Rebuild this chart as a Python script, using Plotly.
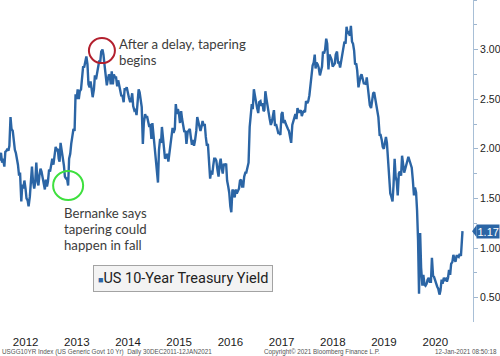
import plotly.graph_objects as go

# ---- data (US 10-year Treasury yield, ~4 readings per month) ----
y2012 = [1.88,1.96,1.86,1.90, 1.82,1.97,1.98,2.00, 1.98,2.03,2.32,2.20, 2.18,2.05,1.99,1.96,
         1.91,1.84,1.73,1.76, 1.47,1.64,1.60,1.68, 1.60,1.50,1.48,1.42, 1.52,1.65,1.82,1.68,
         1.60,1.66,1.86,1.70, 1.63,1.73,1.80,1.77, 1.69,1.62,1.59,1.69, 1.62,1.67,1.79,1.77]
y2013 = [1.84,1.90,1.84,1.95, 2.02,1.99,2.00,1.90, 1.87,2.06,1.99,1.90, 1.83,1.72,1.70,1.70,
         1.63,1.90,1.95,2.05, 2.15,2.20,2.18,2.55, 2.50,2.60,2.50,2.58, 2.60,2.70,2.83,2.82,
         2.90,2.93,2.85,2.65, 2.62,2.68,2.60,2.52, 2.60,2.74,2.70,2.75, 2.80,2.88,2.88,2.98]
y2014 = [3.00,2.95,2.84,2.76, 2.64,2.70,2.75,2.73, 2.65,2.78,2.65,2.75, 2.72,2.72,2.63,2.69,
         2.63,2.61,2.53,2.54, 2.47,2.60,2.60,2.62, 2.54,2.52,2.48,2.48, 2.56,2.43,2.39,2.40,
         2.34,2.46,2.60,2.57, 2.49,2.42,2.05,2.26, 2.35,2.32,2.32,2.28, 2.22,2.25,2.10,2.26]
y2015 = [2.12,1.95,1.83,1.80, 1.66,1.99,2.10,2.06, 2.22,2.12,1.98,1.90, 1.92,1.95,1.87,1.96,
         2.05,2.15,2.21,2.16, 2.20,2.45,2.35,2.40, 2.35,2.26,2.38,2.30, 2.22,2.17,2.18,2.05,
         2.17,2.18,2.20,2.12, 2.04,2.09,2.03,2.08, 2.18,2.32,2.26,2.24, 2.18,2.22,2.28,2.24]
y2016 = [2.24,2.12,2.03,2.05, 1.88,1.70,1.78,1.74, 1.83,1.90,1.90,1.88, 1.78,1.72,1.85,1.90,
         1.80,1.75,1.85,1.83, 1.85,1.68,1.62,1.56, 1.42,1.36,1.59,1.57, 1.51,1.59,1.55,1.57,
         1.60,1.68,1.69,1.62, 1.62,1.72,1.76,1.76, 1.83,1.86,2.22,2.36, 2.45,2.40,2.60,2.54]
y2017 = [2.45,2.41,2.36,2.47, 2.48,2.43,2.46,2.38, 2.39,2.58,2.50,2.41, 2.36,2.30,2.24,2.27,
         2.32,2.39,2.23,2.25, 2.20,2.16,2.16,2.14, 2.35,2.37,2.26,2.29, 2.25,2.22,2.20,2.18,
         2.12,2.06,2.24,2.28, 2.34,2.35,2.30,2.41, 2.37,2.37,2.39,2.33, 2.37,2.38,2.37,2.48]
y2018 = [2.46,2.48,2.54,2.63, 2.78,2.84,2.87,2.95, 2.81,2.87,2.85,2.82, 2.74,2.78,2.83,2.98,
         2.96,3.00,3.11,3.06, 2.80,2.95,2.92,2.90, 2.83,2.84,2.86,2.95, 2.98,2.87,2.87,2.82,
         2.90,2.94,3.00,3.08, 3.06,3.23,3.16,3.17, 3.14,3.24,3.08,3.06, 2.99,2.85,2.86,2.79]
y2019 = [2.62,2.70,2.73,2.75, 2.68,2.66,2.66,2.65, 2.72,2.63,2.59,2.44, 2.41,2.50,2.56,2.57,
         2.51,2.46,2.39,2.32, 2.14,2.14,2.09,2.02, 2.00,2.05,2.12,2.06, 1.89,1.73,1.55,1.52,
         1.47,1.63,1.90,1.72, 1.67,1.53,1.75,1.77, 1.73,1.93,1.83,1.76, 1.80,1.83,1.88,1.92]
y2020 = [1.88,1.86,1.81,1.70, 1.53,1.61,1.56,1.38, 1.08,0.54,1.15,0.80, 0.62,0.73,0.63,0.62,
         0.64,0.68,0.70,0.66, 0.66,0.90,0.72,0.71, 0.67,0.64,0.61,0.59, 0.53,0.57,0.68,0.64,
         0.70,0.68,0.69,0.66, 0.70,0.78,0.73,0.84, 0.86,0.93,0.88,0.86, 0.92,0.92,0.91,0.94]
y2021 = [0.92, 1.10, 1.17]
days_2021 = ["2021-01-01", "2021-01-08", "2021-01-12"]
sample_days = [1, 8, 16, 23]
years = list(range(2012, 2021))
year_labels = [str(y) for y in years]
y_ticks = [0.5, 1.0, 1.5, 2.0, 2.5, 3.0]

series_name = "US 10-Year Treasury Yield"
red_note = ["After a delay, tapering", "begins"]
green_note = ["Bernanke says", "tapering could", "happen in fall"]
red_point = ("2013-12-28", 2.99)
green_point = ("2013-05-01", 1.63)
footer_left = "USGG10YR Index (US Generic Govt 10 Yr)  Daily 30DEC2011-12JAN2021"
footer_mid = "Copyright\u00a9 2021 Bloomberg Finance L.P."
footer_right = "12-Jan-2021 08:50:18"

values = y2012 + y2013 + y2014 + y2015 + y2016 + y2017 + y2018 + y2019 + y2020 + y2021
dates = [f"{y}-{m:02d}-{d:02d}" for y in years for m in range(1, 13) for d in sample_days] + days_2021

BLUE = "#2b65a5"
TXT = "#3c3c3c"

fig = go.Figure()
fig.add_trace(go.Scatter(x=dates, y=values, mode="lines",
                         line=dict(color=BLUE, width=2.4), showlegend=False,
                         hoverinfo="x+y"))

shapes = [
    dict(type="circle", xref="x", yref="y", xsizemode="pixel", ysizemode="pixel",
         xanchor=red_point[0], yanchor=red_point[1], x0=-13, x1=13, y0=-12.5, y1=12.5,
         line=dict(color="#b3202e", width=2)),
    dict(type="circle", xref="x", yref="y", xsizemode="pixel", ysizemode="pixel",
         xanchor=green_point[0], yanchor=green_point[1], x0=-15, x1=15, y0=-14.5, y1=14.5,
         line=dict(color="#3ee03e", width=2)),
]
last = values[-1]
shapes.append(dict(type="path", xref="paper", yref="y",
                   path=f"M 0.998,{last} L 1.0075,{last+0.062} L 1.0075,{last-0.062} Z",
                   fillcolor=BLUE, line=dict(width=0)))

annotations = []
note_font = dict(family="Lato", size=13.2, color=TXT)
for txt, ys in zip(red_note, [7, -9]):
    annotations.append(dict(x=red_point[0], y=red_point[1], xref="x", yref="y", text=txt,
                            showarrow=False, xanchor="left", yanchor="middle",
                            xshift=15, yshift=ys, font=note_font))
for txt, ys in zip(green_note, [-27, -43, -59]):
    annotations.append(dict(x=green_point[0], y=green_point[1], xref="x", yref="y", text=txt,
                            showarrow=False, xanchor="left", yanchor="middle",
                            xshift=-6, yshift=ys, font=note_font))
annotations.append(dict(x=0.1966, y=0.135, xref="paper", yref="paper", xanchor="left",
                        yanchor="middle", showarrow=False,
                        text=f"<span style='color:{BLUE};font-size:9px'>\u25a0</span>{series_name}",
                        font=dict(family="Roboto", size=14.5, color="#222"),
                        bgcolor="#f3f3f3", bordercolor="#a3a3a3", borderwidth=1, borderpad=4))
annotations.append(dict(x=1, y=last, xref="paper", yref="y", xanchor="left", yanchor="middle",
                        xshift=3, showarrow=False, text=f"{last:.2f}",
                        font=dict(family="Liberation Sans", size=11, color="white"),
                        bgcolor=BLUE, borderpad=0.5))
foot_font = dict(family="Liberation Sans", size=6.3, color="#555")
annotations.append(dict(x=0, y=-0.093, xref="paper", yref="paper", xanchor="left",
                        yanchor="middle", showarrow=False, text=footer_left, font=foot_font))
annotations.append(dict(x=262 / 473, y=-0.093, xref="paper", yref="paper", xanchor="left",
                        yanchor="middle", showarrow=False, text=footer_mid, font=foot_font))
annotations.append(dict(x=499 / 473, y=-0.093, xref="paper", yref="paper", xanchor="right",
                        yanchor="middle", showarrow=False, text=footer_right, font=foot_font))

fig.update_layout(
    template="none",
    width=500, height=356,
    margin=dict(l=0, r=27, t=0, b=34, autoexpand=False),
    paper_bgcolor="white", plot_bgcolor="white",
    shapes=shapes, annotations=annotations,
    xaxis=dict(type="date", range=["2012-01-01", "2021-03-28"], automargin=False,
               tickvals=[f"{y}-07-02" for y in years], ticktext=year_labels,
               ticks="outside", ticklen=9, tickcolor="rgba(0,0,0,0)",
               showgrid=False, zeroline=False, showline=False,
               tickfont=dict(family="Liberation Sans", size=11.5, color="#1a1a1a")),
    yaxis=dict(side="right", range=[0.254, 3.5], automargin=False,
               tickvals=y_ticks, tickformat=".2f",
               ticks="outside", ticklen=4, tickcolor="#9fb6cf",
               showline=True, linecolor="#a8bfd6", linewidth=1,
               showgrid=False, zeroline=False,
               minor=dict(dtick=0.25, tick0=0, ticks="outside", ticklen=3, tickcolor="#9fb6cf"),
               tickfont=dict(family="Liberation Sans", size=10.5, color="#222")),
)

fig.write_html("out.html", config={"displayModeBar": False},
               post_script="document.body.style.margin='0';document.body.style.overflow='hidden';")
